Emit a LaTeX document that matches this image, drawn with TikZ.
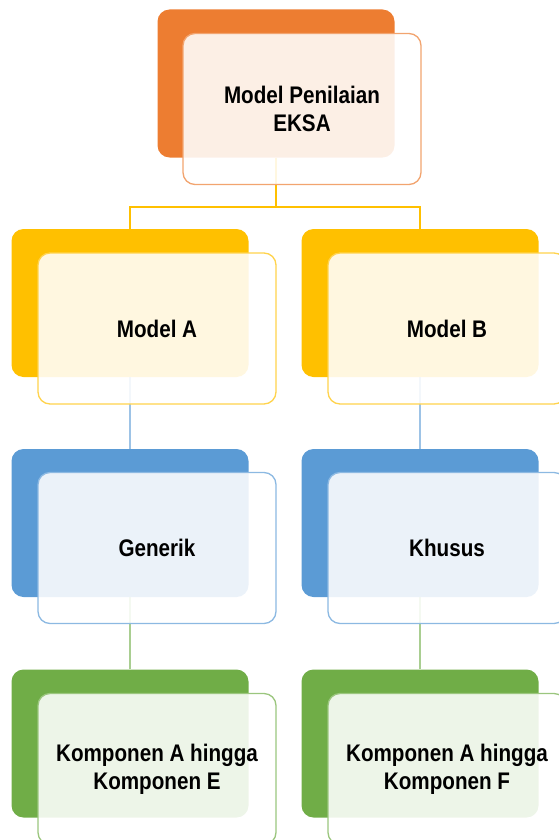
\documentclass[tikz,border=0pt]{standalone}
\usepackage{fontspec}
\setmainfont{Liberation Sans}[FakeStretch=0.86]
\usepackage{tikz}
\usetikzlibrary{backgrounds}
\definecolor{cOrange}{HTML}{ED7D31}
\definecolor{cGold}{HTML}{FFC000}
\definecolor{cBlue}{HTML}{5B9BD5}
\definecolor{cGreen}{HTML}{70AD47}

\begin{document}
\begin{tikzpicture}[x=1pt, y=-1pt, font=\fontsize{24}{28}\selectfont\bfseries,
  back/.style={rounded corners=12pt, minimum width=237pt, minimum height=148pt, inner sep=0pt},
  front/.style={draw=#1!70!white, line width=1.3pt, fill=white, fill opacity=0.88, text opacity=1,
    rounded corners=12pt, minimum width=238pt, minimum height=151pt, align=center, inner sep=0pt},
  link/.style={line width=1.3pt}]
\useasboundingbox (0,0) rectangle (558,840);
% level 1
\node[back, fill=cOrange] (eksaB) at (276,83.5) {};
\node[front=cOrange]      (eksa)  at (302,109)  {Model Penilaian\\EKSA};
% level 2
\node[back, fill=cGold] (modAB) at (130,303) {};
\node[front=cGold]      (modA)  at (157,328.5) {Model A};
\node[back, fill=cGold] (modBB) at (420,303) {};
\node[front=cGold]      (modB)  at (447,328.5) {Model B};
% level 3
\node[back, fill=cBlue] (genB) at (130,523) {};
\node[front=cBlue]      (gen)  at (157,548) {Generik};
\node[back, fill=cBlue] (khuB) at (420,523) {};
\node[front=cBlue]      (khu)  at (447,548) {Khusus};
% level 4
\node[back, fill=cGreen] (kompEB) at (130,743.5) {};
\node[front=cGreen]      (kompE)  at (157,769) {Komponen A hingga\\Komponen E};
\node[back, fill=cGreen] (kompFB) at (420,743.5) {};
\node[front=cGreen]      (kompF)  at (447,769) {Komponen A hingga\\Komponen F};
% connectors
\coordinate (split) at (276,207);
\begin{scope}[on background layer]
\draw[link, cGold] (eksaB.south) -- (split) -| (modAB.north);
\draw[link, cGold] (split) -| (modBB.north);
\draw[link, cBlue!60!white] (modAB.south) -- (genB.north);
\draw[link, cBlue!60!white] (modBB.south) -- (khuB.north);
\draw[link, cGreen!60!white] (genB.south) -- (kompEB.north);
\draw[link, cGreen!60!white] (khuB.south) -- (kompFB.north);
\end{scope}
\end{tikzpicture}
\end{document}
